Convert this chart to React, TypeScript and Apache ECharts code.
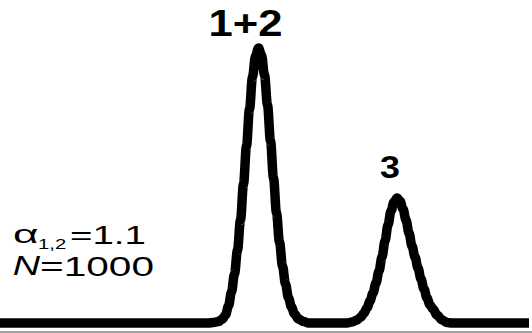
import React, { useEffect, useRef } from "react";
import * as echarts from "echarts";

// Retention time (pixel-like units along the trace) and detector signal
const timePoints = [
  0, 100, 200,
  208.5, 213.5, 218.5, 222.5, 225.5, 228.5, 231.5, 234.5, 237.5, 240.5, 243.5, 246.5, 249.5, 252.5, 255.5,
  258.5,
  261.5, 264.5, 267.5, 270.5, 273.5, 276.5, 279.5, 282.5, 285.5, 288.5, 291.5, 294.5, 298.5, 303.5, 308.5,
  330,
  347, 352, 357, 361, 364, 367, 370, 373, 376, 379, 382, 385, 388, 391, 394,
  397,
  400, 403, 406, 409, 412, 415, 418, 421, 424, 427, 430, 433, 437, 442, 447, 452,
  480, 529,
];
const signal = [
  0, 0, 0,
  0, 0.5, 1.5, 4, 8, 17, 31, 49, 73, 103, 139, 177, 214, 246, 267,
  275,
  268, 248, 218, 182, 145, 110, 81, 57, 39, 25, 16, 9, 4, 1.5, 0,
  0,
  0, 1, 3, 6, 10, 15, 22, 30, 40, 52, 66, 82, 98, 112, 121,
  125,
  122, 114, 103, 90, 77, 66, 55, 44, 34, 25, 18, 14, 8, 3, 0.5, 0,
  0, 0,
];
const peakLabels = ["1+2", "3"];
const alphaText = "α";
const alphaSub = "1,2";
const alphaValue = "=1.1";
const plateSymbol = "N";
const plateValue = "=1000";

const FONT = '"Liberation Sans", Arial, sans-serif';

function txt(x: number, y: number, text: string, font: string, scaleX: number, align: string) {
  return {
    type: "text",
    x,
    y,
    scaleX,
    silent: true,
    style: {
      text,
      font,
      fill: "#000",
      align,
      textAlign: align,
      verticalAlign: "middle",
      textVerticalAlign: "middle",
    },
  };
}

export default function App() {
  const ref = useRef<HTMLDivElement>(null);
  useEffect(() => {
    if (!ref.current) return;
    const chart = echarts.init(ref.current, null, { renderer: "svg" });
    chart.setOption({
      animation: false,
      backgroundColor: "#fff",
      grid: { left: 0, right: 0, top: 0, bottom: 1, containLabel: false },
      xAxis: {
        type: "value",
        min: 0,
        max: 532,
        axisLine: { show: true, onZero: false, lineStyle: { color: "#a0a0a0", width: 2 } },
        axisTick: { show: false },
        axisLabel: { show: false },
        splitLine: { show: false },
      },
      yAxis: { type: "value", min: -9, max: 323, show: false },
      series: [
        {
          type: "line",
          data: timePoints.map((t, i) => [t, signal[i]]),
          symbol: "none",
          showSymbol: false,
          smooth: 0.35,
          smoothMonotone: "x",
          silent: true,
          lineStyle: { color: "#000", width: 9.5, cap: "butt", join: "round" },
        },
      ],
      graphic: [
        txt(245.5, 23.5, peakLabels[0], `bold 37px ${FONT}`, 1.18, "center"),
        txt(390, 166.5, peakLabels[1], `bold 32px ${FONT}`, 1.12, "center"),
        txt(13, 234.5, alphaText, `26px ${FONT}`, 1.7, "left"),
        txt(38, 244.3, alphaSub, `14px ${FONT}`, 1.45, "left"),
        txt(70, 234.5, alphaValue, `26px ${FONT}`, 1.48, "left"),
        txt(12.7, 265.7, plateSymbol, `italic 28px ${FONT}`, 1.35, "left"),
        txt(40, 265.7, plateValue, `28px ${FONT}`, 1.45, "left"),
      ],
    });
    return () => chart.dispose();
  }, []);
  return (
    <div
      ref={ref}
      style={{ position: "absolute", left: 0, top: 0, width: 532, height: 333 }}
    />
  );
}
